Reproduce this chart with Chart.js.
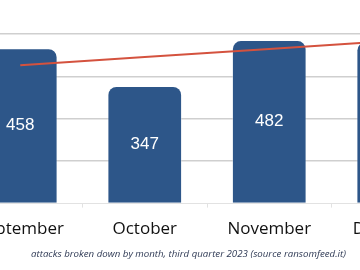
<!DOCTYPE html>
<html>
<head>
<meta charset="utf-8">
<script src="https://cdn.jsdelivr.net/npm/chart.js@4.4.4/dist/chart.umd.min.js"></script>
<style>
  html, body { margin: 0; padding: 0; background: #fff; overflow: hidden; width: 360px; height: 270px; }
  #wrap { position: absolute; left: -42px; top: 0; width: 498px; height: 250px; }
  #caption { position: absolute; left: 0; width: 377px; top: 247px; text-align: center;
    font: italic 9.7px "Open Sans", sans-serif; color: #2f3a55; white-space: nowrap; }
</style>
</head>
<body>
<div id="wrap"><canvas id="chart"></canvas></div>
<div id="caption">attacks broken down by month, third quarter 2023 (source ransomfeed.it)</div>
<script>
// months (September and December are cut off at the edges)
const months = ['September', 'October', 'November', 'December'];
const attacks = [458, 347, 482, 478];
const trend = [408, 432, 456, 480];
const yTicks = [0, 125, 250, 375, 500];

const BAR = '#2d5689';
const LINE = '#d4523e';

// value labels centered inside the bars
const barLabels = {
  id: 'barLabels',
  afterDatasetsDraw(chart) {
    const meta = chart.getDatasetMeta(1);
    const ctx = chart.ctx;
    ctx.save();
    ctx.fillStyle = '#fff';
    ctx.font = '17px "Liberation Sans", Arial, sans-serif';
    ctx.textAlign = 'center';
    ctx.textBaseline = 'middle';
    meta.data.forEach((bar, i) => {
      const mid = (bar.y + bar.base) / 2;
      ctx.fillText(String(attacks[i]), bar.x, mid);
    });
    ctx.restore();
  }
};

new Chart(document.getElementById('chart'), {
  type: 'bar',
  data: {
    labels: months,
    datasets: [
      { type: 'line', data: trend, borderColor: LINE, borderWidth: 2, pointRadius: 0, fill: false, tension: 0, order: 0 },
      { type: 'bar', data: attacks, backgroundColor: BAR, borderColor: 'rgba(255,255,255,0.35)', borderWidth: 1,
        borderRadius: { topLeft: 9, topRight: 9 }, borderSkipped: 'bottom',
        categoryPercentage: 1, barPercentage: 0.6, order: 1 }
    ]
  },
  options: {
    responsive: true, maintainAspectRatio: false, animation: false,
    layout: { padding: { top: 34, bottom: 0, left: 0, right: 0 } },
    plugins: { legend: { display: false }, tooltip: { enabled: false } },
    scales: {
      x: {
        grid: { drawOnChartArea: false, drawTicks: true, tickLength: 4, color: '#e2e2e2' },
        border: { color: '#e2e2e2' },
        ticks: { color: '#111', font: { family: '"Open Sans", sans-serif', size: 17, weight: 500 }, padding: 11 }
      },
      y: {
        min: yTicks[0], max: yTicks[yTicks.length - 1],
        afterBuildTicks: s => { s.ticks = yTicks.map(v => ({ value: v })); },
        afterFit: s => { s.width = 0; },
        ticks: { display: false },
        border: { display: false },
        grid: { drawTicks: false, color: c => c.tick.value === 0 ? 'rgba(0,0,0,0)' : '#cfcfcf', lineWidth: 1.5 }
      }
    }
  },
  plugins: [barLabels]
});
</script>
</body>
</html>
